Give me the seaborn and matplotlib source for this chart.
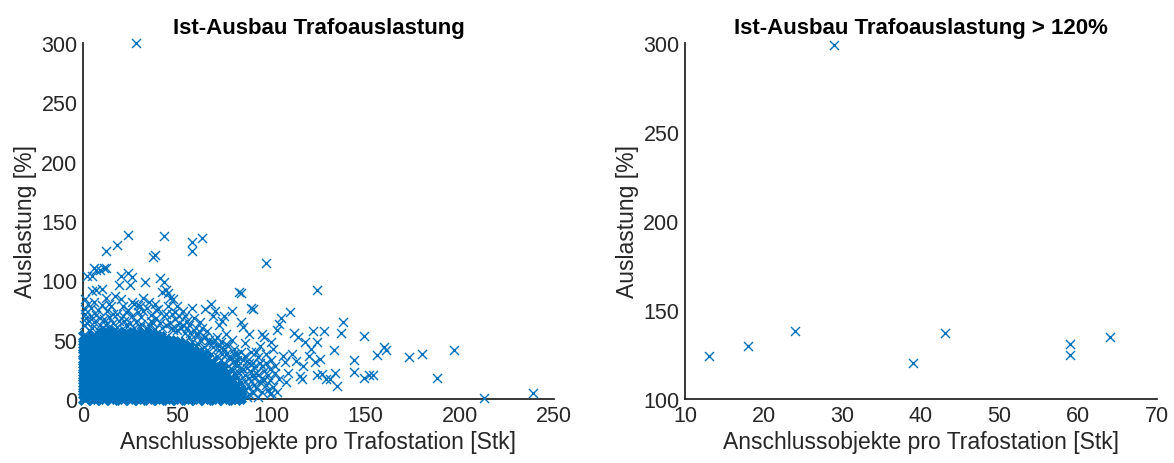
import matplotlib
matplotlib.use("Agg")
import matplotlib.pyplot as plt
import seaborn as sns
import pandas as pd

# ---------------- data ----------------
# dense core of the left cloud: column x positions and the y values in each column
core_x = [0.8, 3.2, 5.6, 8.0, 10.5, 13.0, 15.5, 18.0, 20.5, 23.0, 25.5, 28.0, 30.5,
          33.0, 35.5, 38.0, 40.5, 43.0, 45.5, 48.0, 50.5, 53.0, 55.5, 58.0, 60.5,
          63.0, 65.5, 68.0, 70.5, 73.0, 75.5, 78.0, 80.5, 83.0]
core_y = [
    [1, 5, 10, 14, 19, 24, 28, 33, 38, 43, 47, 52],
    [3, 7, 12, 16, 21, 26, 30, 35, 40, 44, 49],
    [1, 6, 10, 15, 20, 24, 29, 34, 38, 43, 48, 53],
    [2, 7, 11, 17, 22, 26, 31, 36, 41, 45, 50],
    [1, 5, 10, 14, 19, 25, 29, 34, 39, 44, 48, 54],
    [3, 8, 12, 17, 22, 27, 32, 37, 41, 46, 51, 56],
    [1, 6, 11, 15, 20, 25, 29, 34, 39, 44, 49, 54],
    [2, 7, 12, 17, 21, 26, 31, 36, 40, 45, 50, 55],
    [1, 5, 10, 15, 19, 24, 29, 33, 38, 43, 48, 52],
    [3, 8, 13, 17, 22, 27, 31, 36, 41, 46, 50, 55],
    [1, 6, 10, 15, 20, 24, 29, 34, 39, 43, 48, 53],
    [2, 7, 12, 16, 21, 26, 31, 35, 40, 45, 50, 54],
    [1, 5, 10, 14, 19, 24, 28, 33, 38, 43, 47, 52],
    [3, 8, 12, 17, 22, 26, 31, 36, 40, 45, 50, 55],
    [1, 6, 11, 15, 20, 25, 30, 34, 39, 44, 49, 53],
    [2, 7, 12, 16, 21, 26, 31, 35, 40, 45, 49, 52],
    [1, 5, 10, 15, 19, 24, 29, 33, 38, 43, 48, 51],
    [3, 8, 12, 17, 22, 27, 31, 36, 41, 45, 49],
    [1, 6, 11, 15, 20, 25, 29, 34, 39, 44, 48],
    [2, 7, 12, 16, 21, 26, 30, 35, 40, 44, 47],
    [1, 5, 10, 15, 19, 24, 29, 33, 38, 43, 46],
    [3, 8, 12, 17, 22, 26, 31, 36, 40, 44],
    [1, 6, 11, 15, 20, 25, 29, 34, 39, 43],
    [2, 7, 12, 16, 21, 26, 30, 35, 40],
    [1, 5, 10, 15, 19, 24, 28, 33, 38],
    [3, 8, 12, 17, 22, 26, 31, 36],
    [1, 6, 11, 15, 20, 24, 29, 34],
    [2, 7, 12, 16, 21, 25, 30],
    [1, 5, 10, 14, 19, 24, 27],
    [3, 8, 12, 17, 21, 25],
    [1, 6, 10, 15, 19],
    [2, 6, 11, 15],
    [1, 5, 10],
    [2, 6],
]

# scattered stations (fringe, tail and outliers) of the left panel
scat_x = [0.5, 1.5, 0.8, 2.5, 4, 1.2, 3, 6, 7, 9, 11, 13, 10, 5, 7, 10, 12, 14, 16, 17,
          19, 20, 21, 22, 24, 25, 26, 24, 20, 5, 6, 9, 12, 27, 28, 29, 31, 32, 33, 34,
          36, 37, 38, 40, 41, 43, 42, 44, 45, 46, 48, 47, 49, 50, 51, 53, 54, 52, 56, 58,
          59, 61, 62, 63, 65, 66, 68, 69, 70, 71, 72, 74, 75, 73, 76, 77, 79, 80, 79,
          2, 4, 8, 12, 15, 18, 18, 23, 26, 30, 30, 35, 39, 42, 44, 46, 48, 55, 57, 60,
          64, 67, 69, 72, 75, 78, 80, 76,
          1, 3, 5, 6, 8, 9, 11, 13, 14, 16, 17, 19, 21, 22, 23, 25, 26, 27, 29, 31,
          32, 34, 35, 36, 38, 39, 41, 43, 44, 45, 47, 49, 50, 51, 53, 54, 55,
          56, 58, 60, 61, 62, 64, 65, 66, 67, 68, 69, 70, 71, 72, 73, 74, 75, 76, 77, 78,
          79, 80, 81, 82, 83, 84, 85, 86, 87, 88, 89, 90, 92, 94, 95, 98, 100,
          83, 84, 84, 85, 89, 90, 88, 86, 82, 81, 83, 84, 85, 86, 87, 88, 89, 90, 91, 92,
          93, 94, 95, 96, 95, 96, 97, 98, 99, 100, 101, 100, 102, 103, 104, 105, 104, 106,
          107, 108, 109, 110, 111, 112, 113, 114, 115, 116, 117, 118, 120, 121, 122, 123,
          124, 124, 126, 127, 128, 129, 131, 133, 134, 135, 137, 138,
          80, 81, 82, 83, 84, 85, 86, 87, 88, 89, 90, 91, 92, 93, 94, 95, 96, 97, 99, 101,
          103, 80, 82, 86, 88, 91, 93, 97, 99, 102,
          144, 144, 149, 149, 152, 154, 156, 160, 161, 173, 180, 188, 197, 213, 239,
          97, 124, 28, 24, 43, 63, 58, 58, 12, 18, 37, 38, 11, 7, 2]
scat_y = [62, 68, 76, 80, 77, 72, 58, 65, 71, 62, 67, 74, 79, 91, 92, 93, 85, 69, 64, 87,
          96, 84, 70, 66, 75, 96, 103, 106, 104, 104, 110, 109, 110, 80, 65, 73, 69, 85, 99, 77,
          71, 64, 80, 76, 102, 99, 90, 92, 89, 85, 84, 72, 67, 78, 64, 74, 70, 60, 62, 77,
          68, 55, 65, 60, 76, 57, 80, 70, 74, 52, 62, 66, 70, 48, 55, 45, 50, 42, 74,
          64, 70, 58, 62, 78, 61, 72, 62, 70, 61, 78, 62, 68, 60, 72, 64, 58, 66, 56, 60,
          52, 50, 48, 45, 42, 36, 32, 38,
          84, 66, 60, 82, 75, 68, 58, 64, 80, 72, 59, 66, 78, 58, 73, 64, 82, 60, 79, 63,
          74, 60, 82, 66, 59, 75, 64, 70, 62, 78, 60, 73, 58, 70, 62, 56, 60,
          52, 48, 55, 46, 50, 44, 52, 41, 47, 38, 44, 50, 36, 41, 33, 38, 30, 46, 28, 34,
          25, 38, 20, 33, 15, 40, 25, 20, 32, 4, 15, 20, 40, 30, 18, 20, 5,
          90, 89, 65, 61, 77, 76, 55, 47, 38, 30, 22, 14, 33, 8, 26, 18, 40, 30, 12, 22,
          35, 45, 55, 52, 28, 16, 38, 8, 25, 33, 42, 48, 22, 58, 63, 68, 17, 36,
          31, 14, 22, 73, 38, 56, 32, 52, 19, 17, 28, 48, 36, 42, 57, 31,
          48, 20, 34, 21, 57, 17, 17, 41, 22, 11, 56, 65,
          5, 12, 18, 3, 26, 7, 15, 2, 10, 23, 5, 18, 9, 2, 14, 6, 24, 12, 4, 10,
          6, 22, 28, 36, 30, 27, 20, 30, 16, 28,
          33, 23, 53, 18, 20, 20, 37, 44, 41, 35, 38, 18, 41, 1, 5,
          115, 92, 300, 138, 137, 136, 132, 125, 125, 130, 120, 121, 110, 109, 104]

# right panel: stations with load > 120 %
hi_x = [13, 18, 24, 29, 39, 43, 59, 59, 64]
hi_y = [124, 130, 138, 299, 120, 137, 131, 125, 135]

title_left = "Ist-Ausbau Trafoauslastung"
title_right = "Ist-Ausbau Trafoauslastung > 120%"
xlabel = "Anschlussobjekte pro Trafostation [Stk]"
ylabel = "Auslastung [%]"
left_xticks = [0, 50, 100, 150, 200, 250]
left_yticks = [0, 50, 100, 150, 200, 250, 300]
right_xticks = [10, 20, 30, 40, 50, 60, 70]
right_yticks = [100, 150, 200, 250, 300]

# ---------------- build tables ----------------
cx, cy = [], []
for xv, ys in zip(core_x, core_y):
    for yv in ys:
        cx.append(xv)
        cy.append(yv)
core_df = pd.DataFrame({"x": cx, "y": cy})
scat_df = pd.DataFrame({"x": scat_x, "y": scat_y})
hi_df = pd.DataFrame({"x": hi_x, "y": hi_y})

# ---------------- style ----------------
sns.set_theme(style="white")
plt.rcParams["font.family"] = ["Liberation Sans", "DejaVu Sans"]
AX = "#262626"
BLUE = "#0072BD"

fig = plt.figure(figsize=(11.74, 4.64), dpi=100)
ax1 = fig.add_axes([83 / 1174, 64 / 464, 471 / 1174, 356 / 464])
ax2 = fig.add_axes([685 / 1174, 64 / 464, 472 / 1174, 356 / 464])

MS = 42
sns.scatterplot(data=core_df, x="x", y="y", ax=ax1, marker="x", s=70,
                color=BLUE, linewidth=3.6, legend=False)
sns.scatterplot(data=scat_df, x="x", y="y", ax=ax1, marker="x", s=MS,
                color=BLUE, linewidth=1.0, legend=False)
sns.scatterplot(data=hi_df, x="x", y="y", ax=ax2, marker="x", s=MS,
                color=BLUE, linewidth=1.0, legend=False)
for ax in (ax1, ax2):
    for coll in ax.collections:
        coll.set_clip_on(False)

for ax, xt, yt, xl, yl, ttl in [
    (ax1, left_xticks, left_yticks, (0, 250), (0, 300), title_left),
    (ax2, right_xticks, right_yticks, (10, 70), (100, 300), title_right),
]:
    ax.set_xlim(*xl)
    ax.set_ylim(*yl)
    ax.set_xticks(xt)
    ax.set_yticks(yt)
    ax.set_xlabel(xlabel, fontsize=16.5, color=AX, labelpad=3)
    ax.set_ylabel(ylabel, fontsize=16.5, color=AX, labelpad=3)
    ax.set_title(ttl, fontsize=16, fontweight="bold", color="#000000", pad=7)
    for side in ["top", "right"]:
        ax.spines[side].set_visible(False)
    for side in ["left", "bottom"]:
        ax.spines[side].set_color(AX)
        ax.spines[side].set_linewidth(1.3)
        ax.spines[side].set_zorder(0.5)
    ax.tick_params(axis="both", direction="in", length=4, width=1.0, color=AX,
                   labelsize=15.5, labelcolor=AX, pad=4)
    ax.set_facecolor("white")

fig.savefig("out.png", dpi=100, facecolor="white")
